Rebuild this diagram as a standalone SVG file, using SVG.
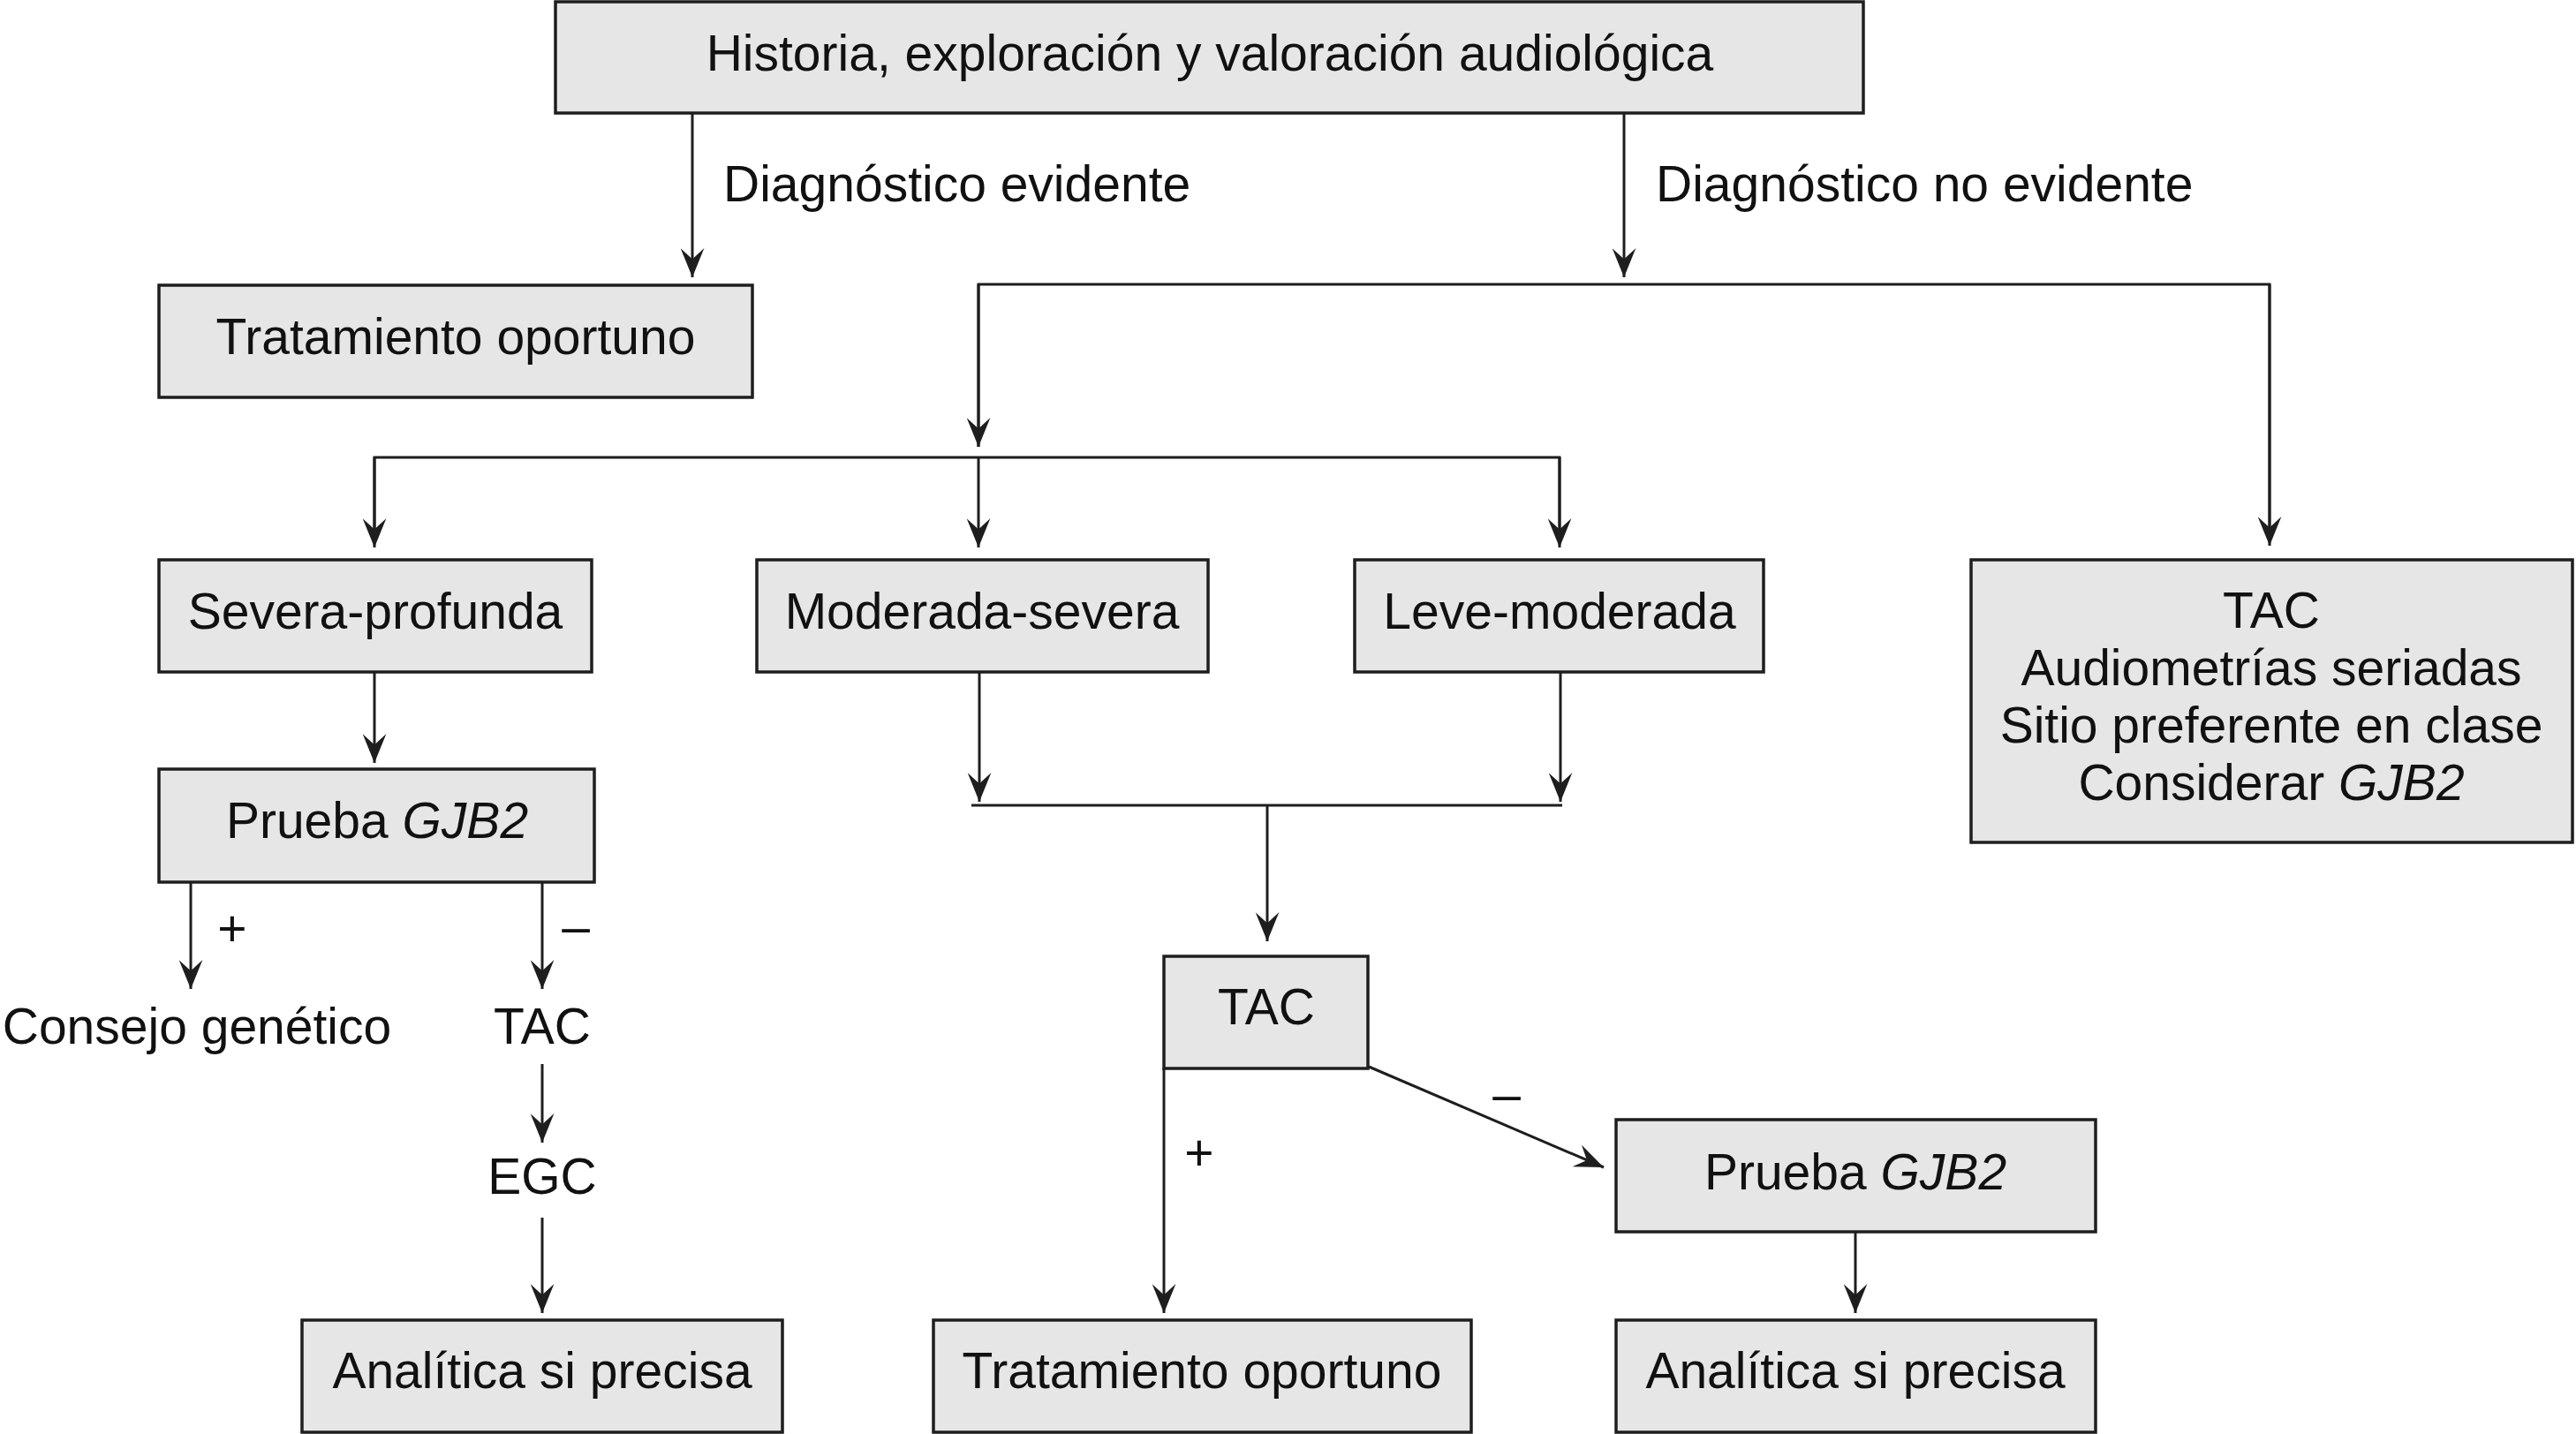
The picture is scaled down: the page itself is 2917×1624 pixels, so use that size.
<svg xmlns="http://www.w3.org/2000/svg" width="2917" height="1624" viewBox="0 0 2917 1624">
<defs>
<style>
.box{fill:#e6e6e6;stroke:#1e1e1e;stroke-width:3.5}
.t{font-family:"Liberation Sans",Arial,Helvetica,sans-serif;font-size:57px;fill:#111}
.m{text-anchor:middle}
.ln{fill:none;stroke:#1e1e1e;stroke-width:3}
.ar{fill:none;stroke:#1e1e1e;stroke-width:3;marker-end:url(#ah)}
.i{font-style:italic}
</style>
<marker id="ah" viewBox="0 0 32 26" refX="32" refY="13" markerWidth="33" markerHeight="27" markerUnits="userSpaceOnUse" orient="auto">
<path d="M0,0 L32,13 L0,26 L12,13 Z" fill="#1e1e1e"/>
</marker>
</defs>
<rect width="2917" height="1624" fill="#fff"/>

<g id="connectors">
<line class="ar" x1="784" y1="128" x2="784" y2="314"/>
<line class="ar" x1="1839" y1="128" x2="1839" y2="314"/>
<polyline class="ln" points="1108,506 1108,322 2570,322 2570,600"/>
<line class="ar" x1="1108" y1="322" x2="1108" y2="506"/>
<line class="ar" x1="2570" y1="322" x2="2570" y2="618"/>
<polyline class="ln" points="424,600 424,518 1766,518 1766,600"/>
<line class="ar" x1="424" y1="518" x2="424" y2="620"/>
<line class="ar" x1="1108" y1="518" x2="1108" y2="620"/>
<line class="ar" x1="1766" y1="518" x2="1766" y2="620"/>
<line class="ar" x1="424" y1="761" x2="424" y2="864"/>
<line class="ar" x1="1109" y1="761" x2="1109" y2="908"/>
<line class="ar" x1="1767" y1="761" x2="1767" y2="908"/>
<line class="ln" x1="1100" y1="912" x2="1769" y2="912"/>
<line class="ar" x1="1435" y1="912" x2="1435" y2="1066"/>
<line class="ar" x1="216" y1="999" x2="216" y2="1120"/>
<line class="ar" x1="614" y1="999" x2="614" y2="1120"/>
<line class="ar" x1="614" y1="1205" x2="614" y2="1294"/>
<line class="ar" x1="614" y1="1379" x2="614" y2="1487"/>
<line class="ar" x1="1318" y1="1209" x2="1318" y2="1487"/>
<line class="ar" x1="1550" y1="1208" x2="1816" y2="1322"/>
<line class="ar" x1="2101" y1="1395" x2="2101" y2="1487"/>
</g>

<g id="labels">
<text class="t" x="819" y="228">Diagnóstico evidente</text>
<text class="t" x="1875" y="228">Diagnóstico no evidente</text>
<text class="t m" x="263" y="1071">+</text>
<text class="t m" x="652" y="1069">–</text>
<text class="t m" x="1358" y="1325">+</text>
<text class="t m" x="1706" y="1259">–</text>
</g>

<g id="n-historia">
<rect class="box" x="629" y="2" width="1481" height="126"/>
<text class="t m" x="1370" y="80">Historia, exploración y valoración audiológica</text>
</g>
<g id="n-tratamiento1">
<rect class="box" x="180" y="323" width="672" height="127"/>
<text class="t m" x="516" y="401">Tratamiento oportuno</text>
</g>
<g id="n-severa">
<rect class="box" x="180" y="634" width="490" height="127"/>
<text class="t m" x="425" y="712">Severa-profunda</text>
</g>
<g id="n-moderada">
<rect class="box" x="857" y="634" width="511" height="127"/>
<text class="t m" x="1112" y="712">Moderada-severa</text>
</g>
<g id="n-leve">
<rect class="box" x="1534" y="634" width="463" height="127"/>
<text class="t m" x="1766" y="712">Leve-moderada</text>
</g>
<g id="n-tac-right">
<rect class="box" x="2232" y="634" width="681" height="320"/>
<text class="t m" x="2572" y="711">TAC</text>
<text class="t m" x="2572" y="776">Audiometrías seriadas</text>
<text class="t m" x="2572" y="841">Sitio preferente en clase</text>
<text class="t m" x="2572" y="906">Considerar <tspan class="i">GJB2</tspan></text>
</g>
<g id="n-prueba1">
<rect class="box" x="180" y="871" width="493" height="128"/>
<text class="t m" x="427" y="949">Prueba <tspan class="i">GJB2</tspan></text>
</g>
<g id="n-consejo">
<text class="t m" x="223" y="1182">Consejo genético</text>
</g>
<g id="n-tac-left">
<text class="t m" x="614" y="1182">TAC</text>
</g>
<g id="n-egc">
<text class="t m" x="614" y="1352">EGC</text>
</g>
<g id="n-analitica1">
<rect class="box" x="342" y="1495" width="544" height="127"/>
<text class="t m" x="614" y="1572">Analítica si precisa</text>
</g>
<g id="n-tac-mid">
<rect class="box" x="1318" y="1083" width="231" height="127"/>
<text class="t m" x="1434" y="1160">TAC</text>
</g>
<g id="n-tratamiento2">
<rect class="box" x="1057" y="1495" width="609" height="127"/>
<text class="t m" x="1361" y="1572">Tratamiento oportuno</text>
</g>
<g id="n-prueba2">
<rect class="box" x="1830" y="1268" width="543" height="127"/>
<text class="t m" x="2101" y="1347">Prueba <tspan class="i">GJB2</tspan></text>
</g>
<g id="n-analitica2">
<rect class="box" x="1830" y="1495" width="543" height="127"/>
<text class="t m" x="2101" y="1572">Analítica si precisa</text>
</g>
</svg>
